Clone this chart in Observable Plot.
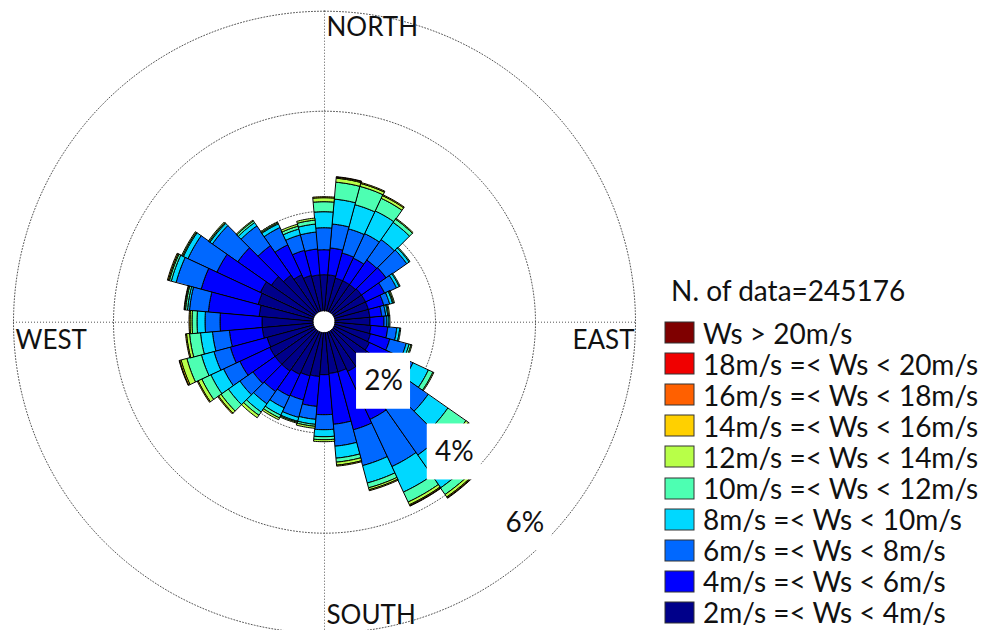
<!DOCTYPE html>
<html>
<head>
<meta charset="utf-8">
<script src="https://cdn.jsdelivr.net/npm/d3@7"></script>
<script src="https://cdn.jsdelivr.net/npm/@observablehq/plot@0.6"></script>
<style>
  body { margin: 0; background: #fff; }
  #wrap { position: relative; width: 982px; height: 630px; font-family: Lato, sans-serif; color: #111; }
  #title { position: absolute; left: 671px; top: 273px; font-size: 28px; white-space: nowrap; line-height: normal; }
  #legend { position: absolute; left: 665px; top: 317px; width: 317px; }
  #legend .wr-swatches { font-family: Lato, sans-serif; font-size: 28px; color: #111; margin: 0; }
  #legend .wr-swatch { height: 31.1px; padding: 0; display: flex; align-items: center; }
  #legend .wr-swatch > svg { margin-right: 9px; overflow: visible; }
  #legend .wr-swatch > svg rect { stroke: #333; stroke-width: 1px; }
  #legend .wr-swatch-label { overflow: visible; white-space: nowrap; }
</style>
</head>
<body>
<div id="wrap">
  <div id="chart"></div>
  <div id="title"></div>
  <div id="legend"></div>
</div>
<script>
// ---- data (percent of observations per 10° sector, by wind-speed class) ----
const directions = [0,10,20,30,40,50,60,70,80,90,100,110,120,130,140,150,160,170,
                    180,190,200,210,220,230,240,250,260,270,280,290,300,310,320,330,340,350];

const classLabels = ["2m/s =< Ws < 4m/s","4m/s =< Ws < 6m/s","6m/s =< Ws < 8m/s","8m/s =< Ws < 10m/s",
  "10m/s =< Ws < 12m/s","12m/s =< Ws < 14m/s","14m/s =< Ws < 16m/s","16m/s =< Ws < 18m/s",
  "18m/s =< Ws < 20m/s","Ws > 20m/s"];
const classColors = ["#00008A","#0000FF","#0068FF","#00D8FF","#4DFFB2","#B8FF48","#FFD000","#FF6000","#F00000","#7F0000"];

const ws2_4  = [.72,.72,.68,.68,.68,.70,.70,.70,.70,.70,.72,.74,.78,.82,.88,.88,.82,.82,.84,.88,.90,.94,.98,.98,.98,.96,1.02,1.02,1.08,1.14,1.18,1.06,.92,.82,.74,.72];
const ws4_6  = [.50,.54,.52,.50,.60,.60,.42,.32,.24,.28,.34,.40,.60,.96,1.00,1.06,1.20,1.02,.80,.60,.50,.48,.50,.54,.66,.76,.66,.84,1.02,1.18,.96,.82,.72,.66,.52,.52];
const ws6_8  = [.44,.48,.50,.54,.50,.50,.26,.12,.08,.06,.18,.34,.36,.54,1.16,1.04,.74,.44,.30,.26,.36,.26,.30,.32,.36,.34,.34,.30,.38,.52,.64,.62,.48,.38,.32,.34];
const ws8_10 = [.32,.50,.50,.50,.42,.06,.06,.06,.04,.04,.06,.06,.34,.48,.80,.56,.36,.24,.14,.10,.08,.16,.20,.28,.28,.26,.24,.16,.04,.10,.10,.06,.08,.08,.12,.16];
const ws10_12= [.20,.34,.38,.28,.08,.02,.02,.02,.02,.02,.02,.04,.10,.44,.16,.22,.10,.08,.06,.04,.02,.06,.08,.18,.20,.30,.22,.10,.04,.04,.02,.02,.04,.02,.06,.08];
const ws12_14= [.08,.08,.06,.06,.02,0,0,.02,.02,0,0,.02,.02,.06,.06,.06,.04,.06,.04,.04,.02,.04,.06,.06,.08,.12,.06,.04,.02,.02,.02,.02,.02,.02,.04,.04];
const ws14_16= [.02,.02,.02,.02,0,0,0,0,0,0,0,0,0,.02,.02,.02,.02,.02,0,0,0,0,0,.02,.02,.03,.02,.02,.01,.02,0,0,0,0,0,0];
const ws16_18= [0,.01,0,0,0,0,0,0,0,0,0,0,0,0,.01,.01,0,0,0,0,0,0,0,0,0,.01,0,0,0,0,0,0,0,0,0,0];
const ws18_20= [0,0,0,0,0,0,0,0,0,0,0,0,0,0,0,0,0,0,0,0,0,0,0,0,0,0,0,0,0,0,0,0,0,0,0,0];
const ws20   = [0,0,0,0,0,0,0,0,0,0,0,0,0,0,0,0,0,0,0,0,0,0,0,0,0,0,0,0,0,0,0,0,0,0,0,0];

const ringPercents = [2, 4, 6];
const ringLabels = ["2%", "4%", "6%"];
const cardinals = ["NORTH", "EAST", "SOUTH", "WEST"];
const nData = 245176;

// ---- geometry helpers (data -> polar, still in percent units) ----
const series = [ws2_4, ws4_6, ws6_8, ws8_10, ws10_12, ws12_14, ws14_16, ws16_18, ws18_20, ws20];
const R0 = 0.22;           // central hole, in percent units
const halfWidth = 5;       // half sector width, degrees
const rad = Math.PI / 180;
const maxR = R0 + d3.max(ringPercents);

const segs = [];
directions.forEach((dir, i) => {
  let cum = 0;
  series.forEach((vals, c) => {
    const v = vals[i];
    if (v > 0) {
      const a = R0 + cum, b = R0 + cum + v;
      for (let k = 0; k <= 2 * halfWidth; k++) {
        const t = (dir - halfWidth + k) * rad;
        segs.push({id: i + "-" + c, cls: classLabels[c],
          x1: a * Math.sin(t), y1: a * Math.cos(t), x2: b * Math.sin(t), y2: b * Math.cos(t)});
      }
    }
    cum += v;
  });
});

const ringPts = [];
ringPercents.forEach(p => {
  for (let k = 0; k <= 360; k++) {
    ringPts.push({ring: p, x: (R0 + p) * Math.sin(k * rad), y: (R0 + p) * Math.cos(k * rad)});
  }
});

const labelAngle = 135 * rad;
const pctLabels = ringPercents.map((p, i) => {
  const r = R0 + p - 0.55;
  return {text: ringLabels[i], x: r * Math.sin(labelAngle), y: r * Math.cos(labelAngle)};
});
const boxW = 0.54, boxH = 0.56;

const dotted = {stroke: "#555", strokeWidth: 1, strokeDasharray: "1,2"};
const txt = {fontSize: 28, fill: "#111"};
const card = {fontSize: 26, fill: "#111"};

const chart = Plot.plot({
  width: 982,
  height: 630,
  margin: 0,
  x: {domain: [-6.48, 13.16], axis: null},
  y: {domain: [-6.166, 6.434], axis: null},
  color: {domain: classLabels, range: classColors},
  style: {fontFamily: "Lato, sans-serif", background: "white"},
  marks: [
    Plot.line(ringPts, {x: "x", y: "y", z: "ring", ...dotted}),
    Plot.ruleX([0], {y1: -maxR, y2: maxR, ...dotted}),
    Plot.ruleY([0], {x1: -maxR, x2: maxR, ...dotted}),
    Plot.area(segs, {x1: "x1", y1: "y1", x2: "x2", y2: "y2", z: "id", fill: "cls",
      stroke: "black", strokeWidth: 1, strokeLinejoin: "miter"}),
    Plot.dot([0], {x: 0, y: 0, r: 9.5, fill: "white", stroke: null}),
    Plot.rect(pctLabels, {x1: d => d.x - boxW, x2: d => d.x + boxW, y1: d => d.y - boxH, y2: d => d.y + boxH, fill: "white", inset: 0}),
    Plot.text(pctLabels, {x: "x", y: "y", text: "text", ...txt}),
    Plot.text([cardinals[0]], {x: 0, y: maxR, text: d => d, textAnchor: "start", lineAnchor: "top", dx: 2, dy: 6, ...card}),
    Plot.text([cardinals[1]], {x: maxR, y: 0, text: d => d, textAnchor: "end", lineAnchor: "top", dx: -1, dy: 8, ...card}),
    Plot.text([cardinals[2]], {x: 0, y: -maxR, text: d => d, textAnchor: "start", lineAnchor: "bottom", dx: 2, dy: -9, ...card}),
    Plot.text([cardinals[3]], {x: -maxR, y: 0, text: d => d, textAnchor: "start", lineAnchor: "top", dx: 2, dy: 8, ...card})
  ]
});
document.getElementById("chart").append(chart);

document.getElementById("title").textContent = "N. of data=" + nData;

const legend = Plot.legend({
  color: {type: "ordinal", domain: classLabels.slice().reverse(), range: classColors.slice().reverse()},
  columns: 1,
  swatchWidth: 29,
  swatchHeight: 21,
  className: "wr"
});
document.getElementById("legend").append(legend);
</script>
</body>
</html>
